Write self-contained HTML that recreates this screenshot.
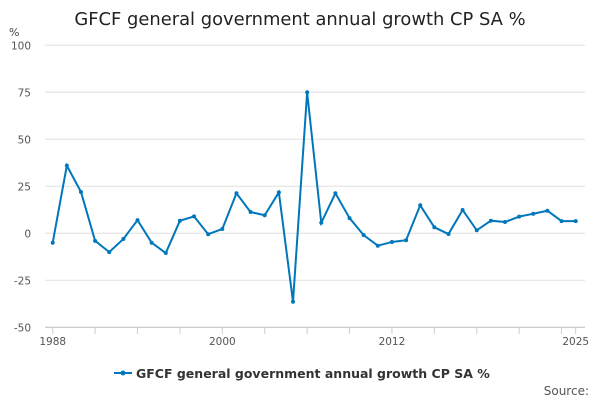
<!DOCTYPE html>
<html><head><meta charset="utf-8"><style>
body{margin:0;background:#fff;font-family:"DejaVu Sans",sans-serif;}
</style></head><body>
<svg id="c" width="600" height="400" xmlns="http://www.w3.org/2000/svg" font-family="DejaVu Sans, sans-serif">
<text x="300" y="25" text-anchor="middle" font-size="17.9" fill="#222">GFCF general government annual growth CP SA %</text>
<text x="9" y="36" font-size="11" fill="#444">%</text>
<g id="grid"></g><g id="xt"></g><g id="ser"></g>
<g>
<line x1="114" y1="373" x2="132" y2="373" stroke="#0077bb" stroke-width="2"/>
<circle cx="123" cy="373" r="2.5" fill="#0077bb"/>
<text x="136" y="378" font-size="12.5" font-weight="bold" fill="#333">GFCF general government annual growth CP SA %</text>
</g>
<text x="589" y="395" text-anchor="end" font-size="12" fill="#555">Source:</text>
</svg>
<script>
const years=[];for(let y=1988;y<=2025;y++)years.push(y);
const values=[-5,36,22,-4,-10,-3,7,-5,-10.5,6.7,9,-0.5,2.3,21.3,11.3,9.6,21.8,-36.4,75,5.6,21.3,8.1,-1,-6.6,-4.6,-3.7,14.9,3.2,-0.4,12.4,1.6,6.7,6,8.9,10.4,12,6.5,6.5];
const yTicks=[100,75,50,25,0,-25,-50];
const xLabels=[1988,2000,2012,2025];
const NS="http://www.w3.org/2000/svg";
const X=y=>52.7+(y-1988)*(575.7-52.7)/37;
const Y=v=>233.3-v*1.88;
function mk(t,a,p){const e=document.createElementNS(NS,t);for(const k in a)e.setAttribute(k,a[k]);p.appendChild(e);return e;}
const g=document.getElementById('grid');
yTicks.forEach(v=>{
 const l=mk('line',{x1:45,x2:585,y1:Y(v),y2:Y(v),stroke:v==-50?'#bbb':'#e0e0e0','stroke-width':1},g);
 
 
 const t=mk('text',{x:31,y:Y(v)+4,'text-anchor':'end','font-size':10.5,fill:'#555'},g);t.textContent=v;
 
 
});
const xt=document.getElementById('xt');
for(let y=1988;y<=2025;y+=3){const l=mk('line',{x1:X(y),x2:X(y),y1:327,y2:334,stroke:'#ccc'},xt);
 
 }
mk('line',{x1:X(2025),x2:X(2025),y1:327,y2:334,stroke:'#ccc'},xt);
xLabels.forEach(y=>{const t=mk('text',{x:X(y),y:345,'text-anchor':'middle','font-size':10.5,fill:'#555'},xt);t.textContent=y;
 
 });
const s=document.getElementById('ser');
const p=mk('polyline',{points:values.map((v,i)=>X(years[i])+','+Y(v)).join(' '),fill:'none',stroke:'#0077bb','stroke-width':2},s);


values.forEach((v,i)=>{const c=mk('circle',{cx:X(years[i]),cy:Y(v),r:2,fill:'#0077bb'},s);
 
 });
</script>
</body></html>
